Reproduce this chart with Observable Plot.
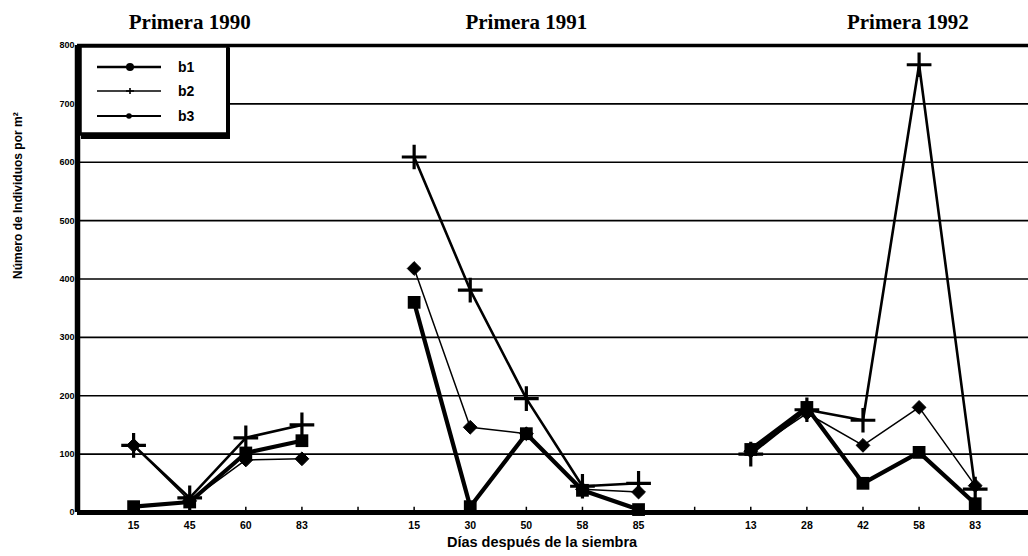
<!DOCTYPE html>
<html>
<head>
<meta charset="utf-8">
<script src="https://cdn.jsdelivr.net/npm/d3@7"></script>
<script src="https://cdn.jsdelivr.net/npm/@observablehq/plot@0.6"></script>
<style>
  html, body { margin: 0; padding: 0; background: #fff; }
  #wrap { position: relative; width: 1028px; height: 556px; overflow: hidden; }
  #legend { position: absolute; left: 77px; top: 44px; }
</style>
</head>
<body>
<div id="wrap"></div>
<script>
// ---- data ----
const seasons = ["Primera 1990", "Primera 1991", "Primera 1992"];
const days = [[15, 45, 60, 83], [15, 30, 50, 58, 85], [13, 28, 42, 58, 83]];
const b1 = [10, 18, 102, 123,   360, 10, 135, 38, 5,    108, 180, 50, 103, 15];
const b2 = [115, 25, 128, 150,  609, 381, 195, 45, 50,  100, 176, 158, 767, 40];
const b3 = [115, 20, 90, 92,    418, 146, 135, 40, 35,  105, 170, 115, 180, 46];
const seriesNames = ["b1", "b2", "b3"];
const yTicks = [0, 100, 200, 300, 400, 500, 600, 700, 800];
const yTitle = "Número de Individuos por m²";
const xTitle = "Días después de la siembra";

// ---- build table: each season followed by an empty slot ----
const rows = [];
const slots = []; // {idx, label}
let idx = 1, k = 0;
const seriesVals = [b1, b2, b3];
const seasonCenter = [];
seasons.forEach((s, si) => {
  const start = idx;
  days[si].forEach(d => {
    slots.push({idx, label: String(d)});
    seriesNames.forEach((n, ni) => rows.push({series: n, season: s, idx, value: seriesVals[ni][k]}));
    idx++; k++;
  });
  seasonCenter.push({season: s, idx: (start + idx - 1) / 2});
  slots.push({idx, label: ""});
  idx++;
});
const labelOf = new Map(slots.map(d => [d.idx, d.label]));
const tickIdx = slots.map(d => d.idx);

const styleBy = {
  b1: {symbol: "square", r: 7.2, lw: 4.2, fill: "black", stroke: "none", sw: 0},
  b2: {symbol: "plus", r: 8, lw: 2.6, fill: "none", stroke: "black", sw: 3.2},
  b3: {symbol: "diamond2", r: 6.2, lw: 1.5, fill: "black", stroke: "black", sw: 1}
};

const lineMarks = [];
const dotMarks = [];
["b3", "b2", "b1"].forEach(n => {
  const st = styleBy[n];
  const data = rows.filter(d => d.series === n);
  lineMarks.push(Plot.line(data, {x: "idx", y: "value", z: "season", stroke: "black", strokeWidth: st.lw, strokeLinejoin: "round", strokeLinecap: "round"}));
  dotMarks.push(Plot.dot(data, {x: "idx", y: "value", symbol: () => st.symbol, r: st.r, fill: st.fill, stroke: st.stroke, strokeWidth: st.sw}));
});

// title x offsets relative to season centre (layout tweak)
const titleShift = [-0.5, 0.0, 0.8];

const chart = Plot.plot({
  width: 1028,
  height: 556,
  marginTop: 45,
  marginBottom: 44,
  marginLeft: 77,
  marginRight: 0,
  x: {type: "linear", domain: [0, 16.95], axis: null},
  y: {domain: [0, 800], axis: null},
  symbol: {type: "identity"},
  style: {fontFamily: "'Liberation Sans', Arial, sans-serif", fontWeight: "bold", background: "white", color: "black"},
  marks: [
    Plot.ruleY(yTicks.filter(v => v > 0 && v < 800), {stroke: "black", strokeWidth: 1.6}),
    Plot.ruleY([800], {stroke: "black", strokeWidth: 3.5}),
    Plot.ruleX(tickIdx, {y1: 0, y2: 9, stroke: "black", strokeWidth: 1.5}),
    Plot.axisY({ticks: yTicks, label: null, tickSize: 0, tickPadding: 3, fontSize: 9, fontWeight: "bold", tickFormat: d => String(d)}),
    Plot.axisX({ticks: tickIdx, label: null, tickSize: 0, tickPadding: 9, fontSize: 10.5, fontWeight: "bold", tickFormat: d => labelOf.get(d)}),
    ...lineMarks,
    ...dotMarks,
    Plot.ruleY([0], {stroke: "black", strokeWidth: 5}),
    Plot.ruleX([0], {stroke: "black", strokeWidth: 5.5}),
    Plot.text(seasonCenter, {x: (d, i) => d.idx + titleShift[i], y: 800, text: "season", dy: -23, fontFamily: "'Liberation Serif', 'Times New Roman', serif", fontSize: 21, fontWeight: "bold"}),
    Plot.text([yTitle], {frameAnchor: "left", dx: -59, rotate: -90, fontSize: 12, fontWeight: "bold"}),
    Plot.text([xTitle], {frameAnchor: "bottom", dx: -11, dy: 34, fontSize: 14.5, fontWeight: "bold"})
  ]
});

const wrap = document.getElementById("wrap");
wrap.appendChild(chart);

// ---- legend (box overlay) ----
const lg = document.createElement("div");
lg.id = "legend";
const ys = [23, 47, 72];
let items = "";
seriesNames.forEach((n, i) => {
  const y = ys[i];
  const lw = [2.4, 1.3, 1.8][i];
  items += `<line x1="20" x2="84" y1="${y}" y2="${y}" stroke="black" stroke-width="${lw}"/>`;
  if (i === 0) items += `<circle cx="53" cy="${y}" r="4" fill="black"/>`;
  if (i === 1) items += `<path d="M49,${y}h8M53,${y - 3}v6" stroke="black" stroke-width="1.6"/>`;
  if (i === 2) items += `<circle cx="52" cy="${y}" r="2.8" fill="black"/>`;
  items += `<text x="101" y="${y + 5}" font-family="'Liberation Sans', Arial, sans-serif" font-weight="bold" font-size="14">${n}</text>`;
});
lg.innerHTML = `<svg width="160" height="98" xmlns="http://www.w3.org/2000/svg">
  <rect x="3" y="2" width="148" height="88" fill="white" stroke="black" stroke-width="3.5"/>
  <path d="M151,4 V93 H4" fill="none" stroke="black" stroke-width="4"/>
  ${items}
</svg>`;
wrap.appendChild(lg);
</script>
</body>
</html>
